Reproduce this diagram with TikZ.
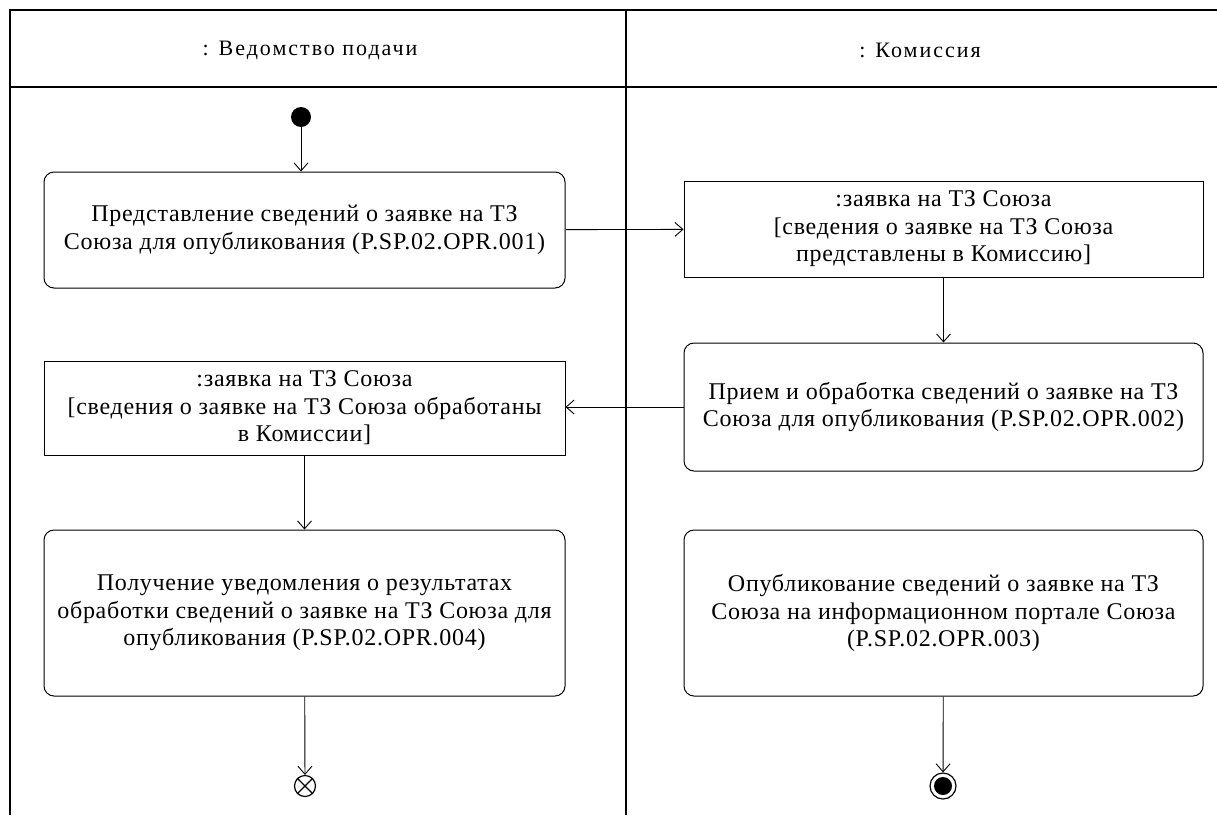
\documentclass[tikz,border=0pt]{standalone}
\usepackage{fontspec}
\setmainfont{Liberation Serif}
\newfontfamily\boxfont[LetterSpace=3]{Liberation Serif}
\newfontfamily\hdrfont[LetterSpace=9]{Liberation Serif}
\usetikzlibrary{arrows.meta}
\begin{document}
\begin{tikzpicture}[x=1pt,y=-1pt,
  lane/.style={line width=1.4pt},
  act/.style={draw, line width=1pt, rounded corners=10pt, align=center, font=\boxfont\fontsize{24}{27.5}\selectfont, inner sep=0pt},
  obj/.style={draw, line width=1pt, align=center, font=\boxfont\fontsize{24}{27.5}\selectfont, inner sep=0pt},
  flow/.style={line width=0.9pt, -{Straight Barb[length=8pt,width=14pt,line width=0.9pt]}},
  hdr/.style={font=\hdrfont\fontsize{22}{24}\selectfont}]
\useasboundingbox (0,0) rectangle (1217,815);
% swimlanes
\draw[lane] (1217,10) -- (10,10) -- (10,815);
\draw[lane] (10,87) -- (1217,87);
\draw[lane] (626,10) -- (626,815);
\node[hdr] (h1) at (310,50) {: Ведомство подачи};
\node[hdr] (h2) at (920,50) {: Комиссия};
% nodes
\node[circle, fill=black, minimum size=20pt, inner sep=0pt] (start) at (301,117) {};
\node[act, minimum width=521pt, minimum height=116pt] (a1) at (304.5,230)
  {Представление сведений о заявке на ТЗ\\Союза для опубликования (P.SP.02.OPR.001)};
\node[obj, minimum width=519pt, minimum height=96pt] (o1) at (943.5,229)
  {:заявка на ТЗ Союза\\{[}сведения о заявке на ТЗ Союза\\представлены в Комиссию]};
\node[act, minimum width=519pt, minimum height=128pt] (a2) at (943.5,407)
  {Прием и обработка сведений о заявке на ТЗ\\Союза для опубликования (P.SP.02.OPR.002)};
\node[obj, minimum width=521pt, minimum height=94pt] (o2) at (304.5,408)
  {:заявка на ТЗ Союза\\{[}сведения о заявке на ТЗ Союза обработаны\\в Комиссии]};
\node[act, minimum width=521pt, minimum height=166pt] (a3) at (304.5,613)
  {Получение уведомления о результатах\\обработки сведений о заявке на ТЗ Союза для\\опубликования (P.SP.02.OPR.004)};
\node[act, minimum width=519pt, minimum height=166pt] (a4) at (943.5,613)
  {Опубликование сведений о заявке на ТЗ\\Союза на информационном портале Союза\\(P.SP.02.OPR.003)};
\node[circle, draw, line width=1.2pt, minimum size=21pt, inner sep=0pt] (ff) at (305,786) {};
\draw[line width=1.2pt] (ff.north west) -- (ff.south east) (ff.north east) -- (ff.south west);
\node[circle, draw, line width=1.2pt, minimum size=26pt, inner sep=0pt] (fin) at (943,786) {};
\node[circle, fill=black, minimum size=18pt, inner sep=0pt] (finin) at (943,786) {};
% flows
\draw[flow] (start) -- (start |- a1.north);
\draw[flow] (a1) -- (o1);
\draw[flow] (o1) -- (a2);
\draw[flow] (a2.west) -- (o2.east |- a2.west);
\draw[flow] (o2) -- (a3);
\draw[flow] (a3) -- (ff);
\draw[flow] (a4) -- (fin);
\end{tikzpicture}
\end{document}
